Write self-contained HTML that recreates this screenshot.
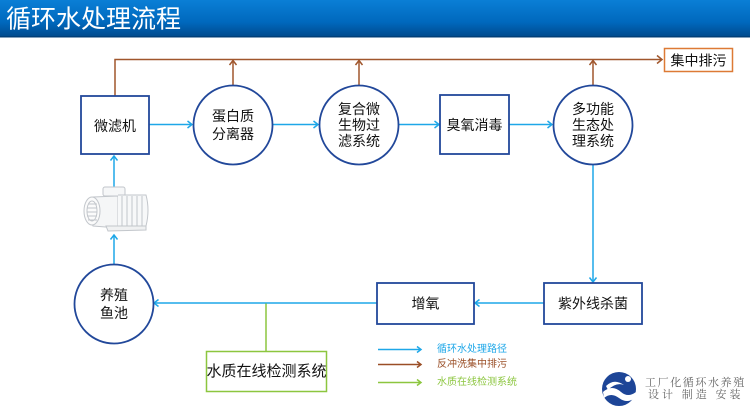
<!DOCTYPE html>
<html><head><meta charset="utf-8">
<style>
html,body{margin:0;padding:0;background:#fff;}
body{width:750px;height:420px;overflow:hidden;position:relative;font-family:"Liberation Sans","Noto Sans CJK SC",sans-serif;}
svg{position:absolute;left:0;top:0;}
</style></head>
<body>
<svg width="750" height="420" viewBox="0 0 750 420" xmlns="http://www.w3.org/2000/svg" font-family="Liberation Sans, Noto Sans CJK SC, sans-serif">
<defs>
<linearGradient id="hg" x1="0" y1="0" x2="0" y2="1">
<stop offset="0" stop-color="#0a7fd6"/>
<stop offset="0.6" stop-color="#0068bd"/>
<stop offset="1" stop-color="#004a8c"/>
</linearGradient>
</defs>
<!-- header -->
<rect x="0" y="0" width="750" height="37" fill="url(#hg)"/>
<rect x="0" y="36" width="750" height="1.5" fill="#003f78"/>
<text x="6" y="19.5" font-size="25" fill="#fff" dominant-baseline="central">循环水处理流程</text>

<!-- brown backwash lines -->
<g stroke="#a0562c" stroke-width="1.5" fill="none">
<polyline points="115,96 115,59.5 662,59.5"/>
<polyline points="657,55.5 662,59.5 657,63.5"/>
<line x1="233" y1="85" x2="233" y2="60"/>
<polyline points="229.5,65 233,60.5 236.5,65"/>
<line x1="359" y1="85" x2="359" y2="60"/>
<polyline points="355.5,65 359,60.5 362.5,65"/>
<line x1="593" y1="85" x2="593" y2="60"/>
<polyline points="589.5,65 593,60.5 596.5,65"/>
</g>
<rect x="664.5" y="48.5" width="68" height="23" fill="#fff" stroke="#dd7a35" stroke-width="1.5"/>
<text x="698.5" y="60.5" font-size="14" fill="#111" text-anchor="middle" dominant-baseline="central">集中排污</text>

<!-- blue flow lines -->
<g stroke="#1ea7e8" stroke-width="1.5" fill="none">
<line x1="149" y1="124.5" x2="192" y2="124.5"/>
<polyline points="187.5,121 192,124.5 187.5,128"/>
<line x1="273" y1="124.5" x2="318" y2="124.5"/>
<polyline points="313.5,121 318,124.5 313.5,128"/>
<line x1="399" y1="124.5" x2="439" y2="124.5"/>
<polyline points="434.5,121 439,124.5 434.5,128"/>
<line x1="509" y1="124.5" x2="552" y2="124.5"/>
<polyline points="547.5,121 552,124.5 547.5,128"/>
<line x1="593" y1="165" x2="593" y2="282"/>
<polyline points="589.5,277.5 593,282 596.5,277.5"/>
<line x1="544" y1="303" x2="475" y2="303"/>
<polyline points="479.5,299.5 475,303 479.5,306.5"/>
<line x1="377" y1="303" x2="154" y2="303"/>
<polyline points="158.5,299.5 154,303 158.5,306.5"/>
<line x1="114" y1="264" x2="114" y2="235"/>
<polyline points="110.5,239.5 114,235 117.5,239.5"/>
<line x1="114" y1="188" x2="114" y2="156"/>
<polyline points="110.5,160.5 114,156 117.5,160.5"/>
</g>

<!-- green line -->
<line x1="266" y1="303.5" x2="266" y2="351" stroke="#8cc63f" stroke-width="1.5"/>

<!-- nodes -->
<g fill="#fff" stroke="#22489a" stroke-width="1.8">
<rect x="81" y="96" width="68" height="58"/>
<circle cx="233" cy="125" r="39.5"/>
<circle cx="359" cy="125" r="39.5"/>
<rect x="440" y="95" width="69" height="59"/>
<circle cx="593" cy="125" r="39.5"/>
<rect x="544" y="283" width="98" height="41"/>
<rect x="377" y="283" width="97" height="41"/>
<circle cx="114" cy="304" r="39.5"/>
</g>
<rect x="206.5" y="351.5" width="120" height="40" fill="#fff" stroke="#8cc63f" stroke-width="1.5"/>

<g font-size="14" fill="#111" text-anchor="middle" dominant-baseline="central">
<text x="115" y="126">微滤机</text>
<text x="233" y="116">蛋白质</text>
<text x="233" y="134">分离器</text>
<text x="359" y="109">复合微</text>
<text x="359" y="125">生物过</text>
<text x="359" y="141">滤系统</text>
<text x="474.5" y="125">臭氧消毒</text>
<text x="593" y="109">多功能</text>
<text x="593" y="125">生态处</text>
<text x="593" y="141">理系统</text>
<text x="593" y="303.5">紫外线杀菌</text>
<text x="425.5" y="303.5">增氧</text>
<text x="114" y="295">养殖</text>
<text x="114" y="313">鱼池</text>
<text x="266.5" y="371.5" font-size="15">水质在线检测系统</text>
</g>

<!-- pump sketch -->
<g fill="none" stroke="#c2c6cb" stroke-width="1">
<rect x="103" y="187" width="22" height="9" rx="2" fill="#f6f7f8"/>
<path d="M93,197 Q86,210 93,226 L118,228 L118,196 Z" fill="#f5f6f7"/>
<ellipse cx="92" cy="211" rx="8" ry="14" fill="#fbfbfb"/>
<ellipse cx="92" cy="211" rx="5" ry="10"/>
<line x1="88" y1="204" x2="97" y2="204"/><line x1="87" y1="208" x2="97" y2="208"/>
<line x1="87" y1="212" x2="97" y2="212"/><line x1="87" y1="216" x2="97" y2="216"/>
<line x1="88" y1="220" x2="97" y2="220"/>
<path d="M118,195 L146,195 Q150,210 146,226 L118,228" fill="#f7f8f9"/>
<line x1="122" y1="196" x2="122" y2="227"/><line x1="127" y1="196" x2="127" y2="227"/>
<line x1="132" y1="196" x2="132" y2="227"/><line x1="137" y1="196" x2="137" y2="227"/>
<line x1="142" y1="196" x2="142" y2="227"/>
<path d="M106,226 L146,226 L146,230 L108,231 Z" fill="#f0f1f2"/>
</g>

<!-- legend -->
<g stroke-width="1.5" fill="none">
<line x1="378" y1="349.5" x2="421" y2="349.5" stroke="#1ea7e8"/>
<polyline points="417,346.5 421,349.5 417,352.5" stroke="#1ea7e8"/>
<line x1="378" y1="364.5" x2="421" y2="364.5" stroke="#9a4e26"/>
<polyline points="417,361.5 421,364.5 417,367.5" stroke="#9a4e26"/>
<line x1="378" y1="382.5" x2="421" y2="382.5" stroke="#8cc63f"/>
<polyline points="417,379.5 421,382.5 417,385.5" stroke="#8cc63f"/>
</g>
<g font-size="10" dominant-baseline="central">
<text x="437" y="349.5" fill="#1ea7e8">循环水处理路径</text>
<text x="437" y="364.5" fill="#9a4e26">反冲洗集中排污</text>
<text x="437" y="382.5" fill="#8cc63f">水质在线检测系统</text>
</g>

<!-- logo -->
<circle cx="619" cy="389" r="17" fill="#1d4597"/>
<path d="M603,392 Q612,384 621,392 Q628,398 636,392 L635,398 Q627,404 619,398 Q611,392 604,398 Z" fill="#fff"/>
<path d="M606,386 Q614,378 624,385 Q616,382 608,390 Z" fill="#fff"/>
<circle cx="628" cy="379" r="3" fill="#fff"/>
<g font-family="Liberation Serif, Noto Serif CJK SC, serif" fill="#666" font-size="11" dominant-baseline="central">
<text x="645" y="383" letter-spacing="1.6">工厂化循环水养殖</text>
<text x="648" y="395" letter-spacing="3">设计 制造 安装</text>
</g>
</svg>
</body></html>
